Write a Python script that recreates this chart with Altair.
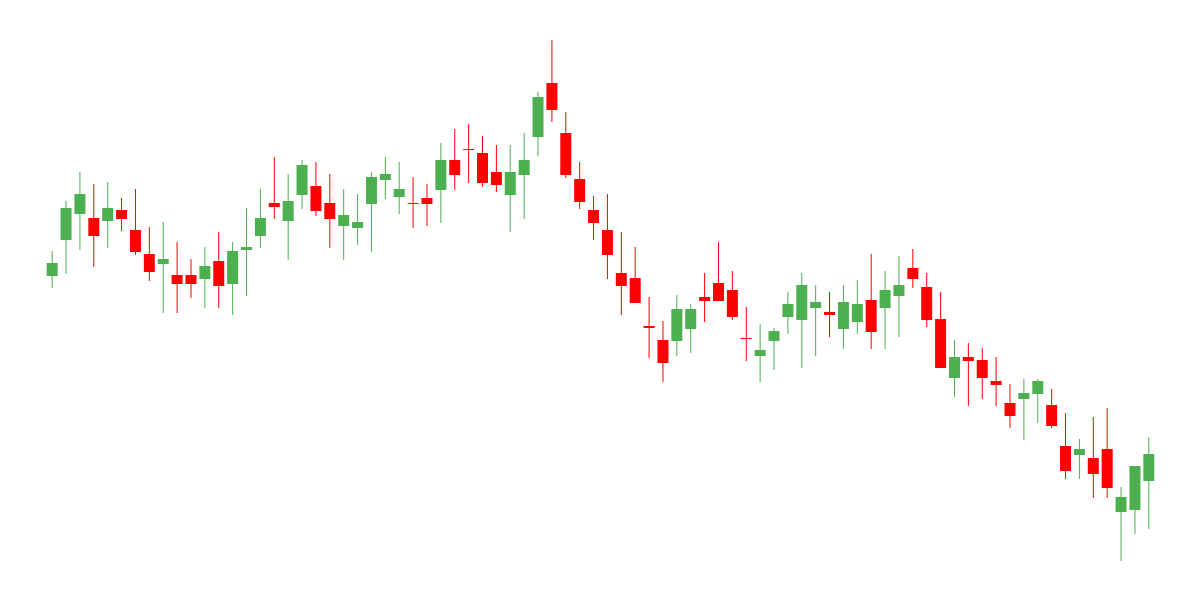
import altair as alt
import pandas as pd

# Price values (arbitrary units, no axis shown)
opens = [324, 360, 386, 382, 379, 390, 370, 346, 336, 325,
         325, 321, 339, 316, 350, 364, 397, 379, 405, 414,
         397, 374, 372, 396, 420, 403, 397, 402, 410, 440,
         451, 447, 428, 405, 425, 463, 517, 467, 421, 390,
         370, 327, 322, 274, 260, 259, 271, 303, 317, 310,
         262, 244, 259, 283, 280, 292, 288, 271, 278, 300,
         292, 304, 332, 313, 281, 222, 243, 240, 219, 197,
         201, 206, 195, 154, 145, 142, 151, 88, 90, 119]
highs = [349, 399, 428, 416, 418, 402, 411, 373, 378, 358,
         341, 353, 368, 358, 392, 411, 443, 426, 440, 438,
         426, 411, 406, 428, 443, 438, 423, 416, 457, 471,
         476, 464, 455, 455, 467, 508, 560, 488, 438, 404,
         406, 368, 353, 303, 279, 305, 296, 327, 358, 329,
         293, 276, 272, 308, 327, 315, 308, 315, 320, 346,
         329, 344, 351, 327, 308, 260, 257, 252, 243, 216,
         221, 221, 211, 187, 161, 183, 192, 113, 134, 163]
lows = [312, 326, 350, 333, 352, 369, 345, 319, 287, 287,
        302, 292, 292, 285, 304, 352, 381, 340, 391, 384,
        352, 340, 355, 348, 401, 386, 372, 374, 377, 410,
        417, 413, 408, 368, 381, 444, 478, 422, 391, 360,
        321, 285, 297, 242, 218, 244, 247, 278, 299, 280,
        239, 218, 230, 266, 232, 244, 263, 251, 266, 251,
        251, 263, 312, 273, 232, 203, 194, 201, 194, 172,
        160, 177, 172, 121, 121, 102, 102, 39, 66, 71]
closes = [337, 392, 406, 364, 392, 381, 348, 328, 341, 316,
          316, 334, 314, 349, 353, 382, 393, 399, 435, 389,
          381, 385, 378, 423, 426, 411, 396, 396, 440, 425,
          450, 417, 415, 428, 440, 503, 490, 425, 398, 377,
          345, 314, 297, 272, 237, 291, 291, 299, 299, 283,
          261, 250, 269, 296, 315, 298, 285, 298, 296, 268,
          310, 315, 321, 280, 232, 243, 239, 222, 215, 184,
          207, 219, 174, 129, 151, 126, 112, 103, 134, 146]

df = pd.DataFrame({
    "i": list(range(len(opens))),
    "open": opens,
    "high": highs,
    "low": lows,
    "close": closes,
})
df["dir"] = ["up" if c > o else "down" for o, c in zip(opens, closes)]

W, H = 1184, 580
step = 14.0
x0 = -39.5 / step
x1 = (W - 39.5) / step

xenc = alt.X("i:Q", scale=alt.Scale(domain=[x0, x1], nice=False, zero=False), axis=None)
yscale = alt.Scale(domain=[12, 592], nice=False, zero=False)
color = alt.Color("dir:N", scale=alt.Scale(domain=["up", "down"], range=["#4CAF50", "#FF0000"]), legend=None)

base = alt.Chart(df)

wicks = base.mark_rule(strokeWidth=1).encode(
    x=xenc,
    y=alt.Y("low:Q", scale=yscale, axis=None),
    y2="high:Q",
    color=color,
)

bodies = base.mark_bar(size=11).encode(
    x=xenc,
    y=alt.Y("open:Q", scale=yscale, axis=None),
    y2="close:Q",
    color=color,
)

chart = (wicks + bodies).properties(
    width=W, height=H, padding=0, autosize=alt.AutoSizeParams(type="none")
).configure(
    background="white",
    view=alt.ViewConfig(stroke=None, strokeWidth=0),
)

chart.save("out.html", embed_options={"renderer": "svg", "actions": False})
